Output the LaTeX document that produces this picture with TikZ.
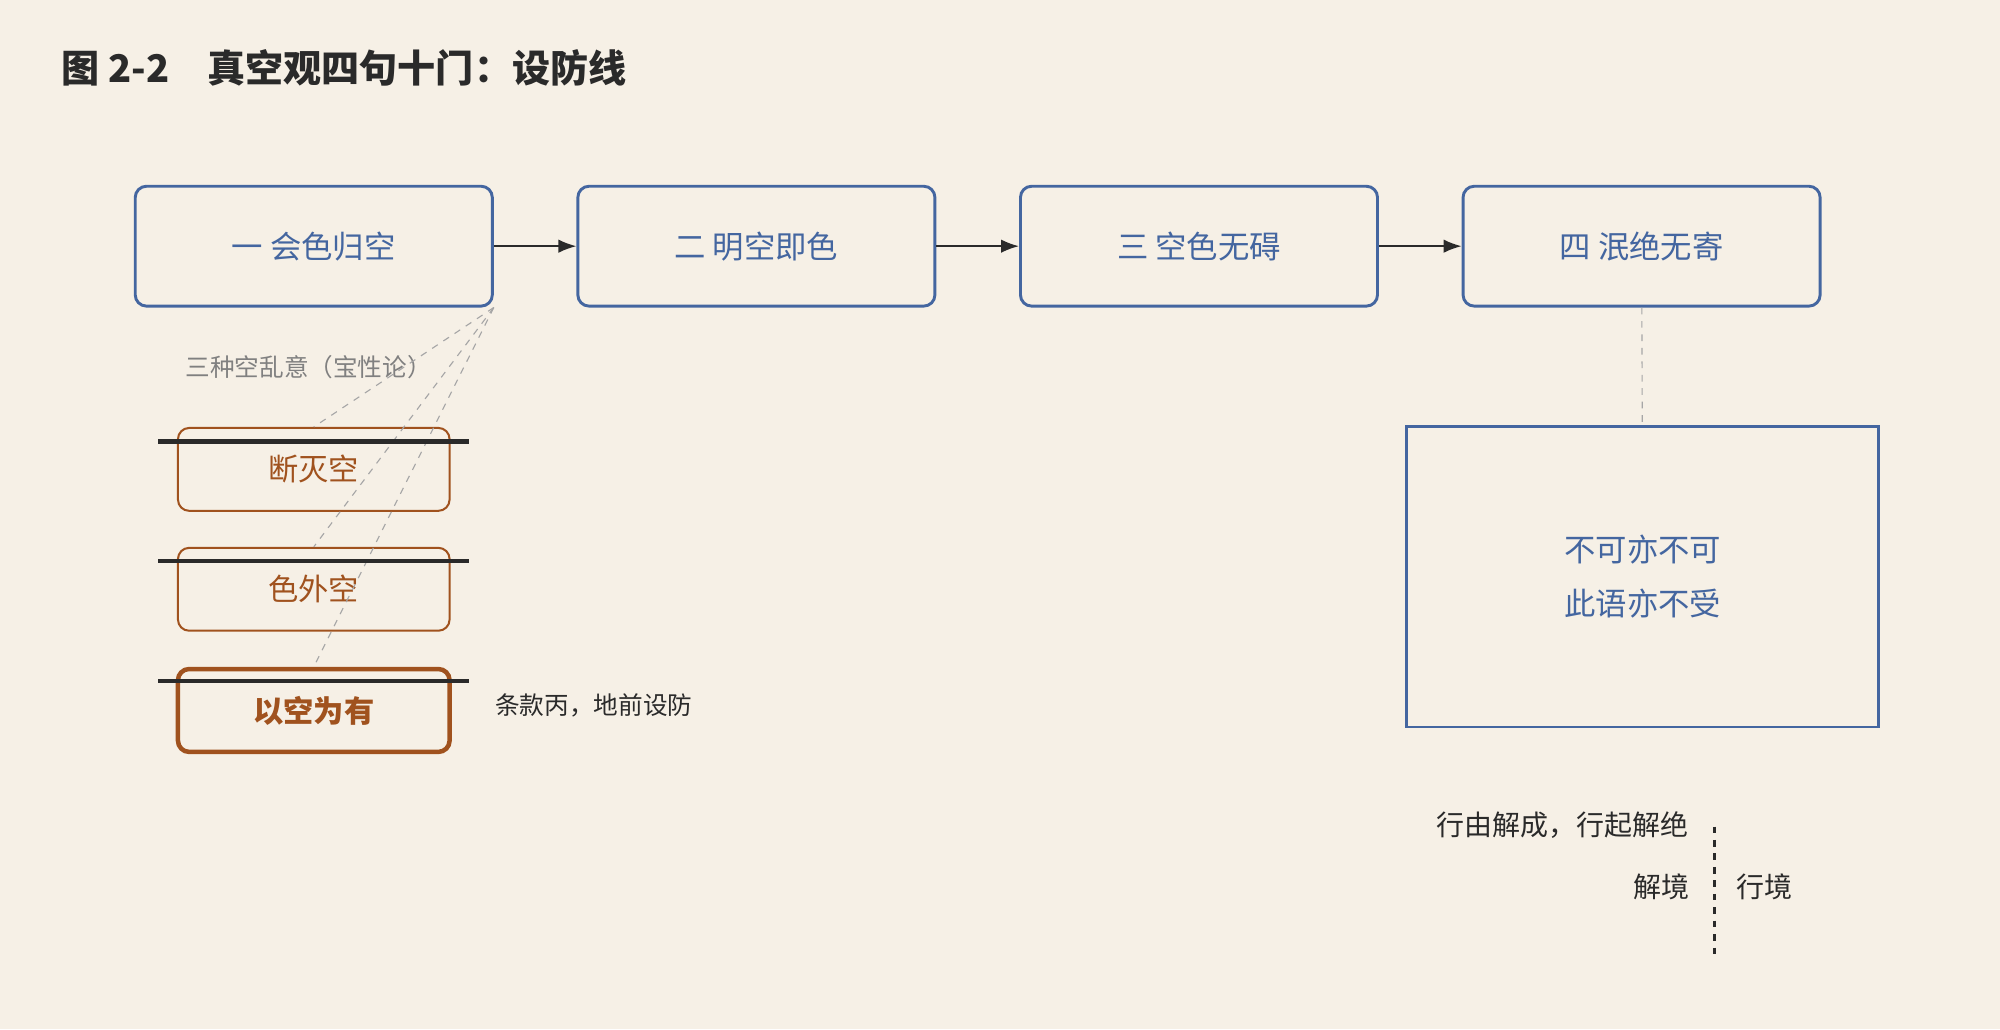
\documentclass[tikz,border=0pt]{standalone}
\usepackage{fontspec}
\setmainfont{Noto Sans CJK SC}
\usetikzlibrary{arrows.meta,positioning,calc}
\definecolor{paper}{HTML}{F6F0E6}
\definecolor{blueline}{HTML}{4466A0}
\definecolor{rust}{HTML}{A0521E}
\definecolor{ink}{HTML}{2A2A2A}
\tikzset{
  stage/.style={draw=blueline,line width=1.3pt,rounded corners=5pt,minimum width=5.6cm,minimum height=1.88cm,text=blueline,font=\fontsize{14}{16}\selectfont},
  wrong/.style={draw=rust,line width=0.9pt,rounded corners=5pt,minimum width=4.26cm,minimum height=1.3cm,text=rust,font=\fontsize{13.5}{16}\selectfont},
  strike/.style={ink,line width=2pt},
  guide/.style={gray!70,dashed,line width=0.5pt},
  gatearrow/.style={-{Latex[length=8pt]},ink,line width=0.8pt}
}
\begin{document}
\begin{tikzpicture}[x=0.02cm,y=-0.02cm]
        \fill[paper] (0,0) rectangle (1568,807);
        \useasboundingbox (0,0) rectangle (1568,807);

        % Title
        \node[anchor=west,font=\fontsize{17}{20}\selectfont\bfseries,text=ink] (title) at (42,53) {图 2-2\quad 真空观四句十门：设防线};

        % Four gates
        \node[stage] (g1) at (246,193) {一 会色归空};
        \node[stage] (g2) at (593,193) {二 明空即色};
        \node[stage] (g3) at (940,193) {三 空色无碍};
        \node[stage] (g4) at (1287,193) {四 泯绝无寄};
        \draw[gatearrow] (g1) -- (g2);
        \draw[gatearrow] (g2) -- (g3);
        \draw[gatearrow] (g3) -- (g4);

        % Three wrong views
        \node[text=gray,font=\fontsize{11}{13}\selectfont] (note) at (242,288) {三种空乱意（宝性论）};
        \node[wrong] (w1) at (246,368) {断灭空};
        \node[wrong] (w2) at (246,462) {色外空};
        \node[wrong,line width=2pt,font=\fontsize{13.5}{16}\selectfont\bfseries] (w3) at (246,557) {以空为有};
        \foreach \w in {w1,w2,w3}
            \draw[guide] (g1.south east) -- (\w.north);
        \foreach \y in {346,440,534}
            \draw[strike] (124,\y) -- (368,\y);
        \node[anchor=west,text=ink,font=\fontsize{11}{13}\selectfont] (clause) at (382,553) {条款丙，地前设防};

        % Fourth gate
        \node[draw=blueline,line width=1.3pt,minimum width=7.4cm,minimum height=4.72cm,text=blueline,align=center,font=\fontsize{14}{24.5}\selectfont] (final) at (1288,452) {不可亦不可\\此语亦不受};
        \draw[guide] (g4) -- (final);

        % Realms
        \coordinate (top) at (1344,648);
        \coordinate (bot) at (1344,748);
        \draw[ink,dashed,line width=1.2pt] (top) -- (bot);
        \node[anchor=east,text=ink,font=\fontsize{12.5}{15}\selectfont] (motto) at (1330,647) {行由解成，行起解绝};
        \node[anchor=east,text=ink,font=\fontsize{12.5}{15}\selectfont] (jie) at (1331,695) {解境};
        \node[anchor=west,text=ink,font=\fontsize{12.5}{15}\selectfont] (xing) at (1355,695) {行境};
\end{tikzpicture}
\end{document}
